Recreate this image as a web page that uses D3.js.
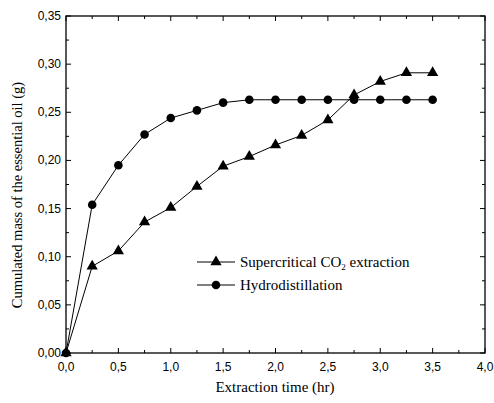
<!DOCTYPE html>
<html><head><meta charset="utf-8">
<script src="https://cdn.jsdelivr.net/npm/d3@7"></script>
<style>body{margin:0;background:#fff}</style>
</head><body>
<svg id="c" width="494" height="403"></svg>
<script>
const times = [0,0.25,0.5,0.75,1.0,1.25,1.5,1.75,2.0,2.25,2.5,2.75,3.0,3.25,3.5];
const supercritical = [0,0.090,0.106,0.136,0.151,0.173,0.194,0.204,0.216,0.226,0.242,0.268,0.282,0.291,0.291];
const hydro = [0,0.154,0.195,0.227,0.244,0.252,0.260,0.263,0.263,0.263,0.263,0.263,0.263,0.263,0.263];
const xTicks = [0,0.5,1.0,1.5,2.0,2.5,3.0,3.5,4.0];
const yTicks = [0,0.05,0.10,0.15,0.20,0.25,0.30,0.35];
const legendLabels = ["Supercritical CO", "Hydrodistillation"];

const svg = d3.select("#c");
const L=66, T=16, R=485, B=353;
const x = d3.scaleLinear().domain([0,4]).range([L,R]);
const y = d3.scaleLinear().domain([0,0.35]).range([B,T]);
const fmtX = d => d.toFixed(1).replace(".",",");
const fmtY = d => d.toFixed(2).replace(".",",");
const minorX = d3.range(0,4.001,0.25);
const minorY = d3.range(0,0.3501,0.025);

// ticks
const tg = svg.append("g").attr("stroke","#000").attr("stroke-width",1);
minorX.forEach((v,i)=>{
  const len = i%2===0?5:3;
  tg.append("line").attr("x1",x(v)).attr("x2",x(v)).attr("y1",B).attr("y2",B-len);
  tg.append("line").attr("x1",x(v)).attr("x2",x(v)).attr("y1",T).attr("y2",T+len);
});
minorY.forEach((v,i)=>{
  const len = i%2===0?5:3;
  tg.append("line").attr("y1",y(v)).attr("y2",y(v)).attr("x1",L).attr("x2",L+len);
  tg.append("line").attr("y1",y(v)).attr("y2",y(v)).attr("x1",R).attr("x2",R-len);
});
svg.append("rect").attr("x",L).attr("y",T).attr("width",R-L).attr("height",B-T)
  .attr("fill","none").attr("stroke","#000").attr("stroke-width",1.3);

// tick labels
svg.append("g").selectAll("text").data(xTicks).join("text")
  .attr("x",d=>x(d)).attr("y",B+18).attr("text-anchor","middle")
  .attr("font-family","Liberation Sans, Arial").attr("font-size",12).text(fmtX);
svg.append("g").selectAll("text").data(yTicks).join("text")
  .attr("x",L-5).attr("y",d=>y(d)+4).attr("text-anchor","end")
  .attr("font-family","Liberation Sans, Arial").attr("font-size",12).text(fmtY);

// axis titles
svg.append("text").attr("x",275).attr("y",392).attr("text-anchor","middle")
  .attr("font-family","Liberation Serif, Times New Roman").attr("font-size",15).text("Extraction time (hr)");
svg.append("text").attr("transform",`translate(22,195) rotate(-90)`).attr("text-anchor","middle")
  .attr("font-family","Liberation Serif, Times New Roman").attr("font-size",14.5).text("Cumulated mass of the essential oil (g)");

// lines
const line = d3.line().x((d,i)=>x(times[i])).y(d=>y(d));
[supercritical, hydro].forEach(s=>{
  svg.append("path").attr("d",line(s)).attr("fill","none").attr("stroke","#000").attr("stroke-width",1);
});
const tri = d3.symbol().type(d3.symbolTriangle).size(55);
svg.append("g").selectAll("path").data(supercritical).join("path")
  .attr("d",tri).attr("transform",(d,i)=>`translate(${x(times[i])},${y(d)})`).attr("fill","#000");
svg.append("g").selectAll("circle").data(hydro).join("circle")
  .attr("cx",(d,i)=>x(times[i])).attr("cy",d=>y(d)).attr("r",4.3).attr("fill","#000");

// legend
const lg = svg.append("g");
const ly = [262, 285];
ly.forEach((yy,i)=>{
  lg.append("line").attr("x1",197).attr("x2",235).attr("y1",yy).attr("y2",yy).attr("stroke","#000");
  if(i===0) lg.append("path").attr("d",tri).attr("transform",`translate(216,${yy})`);
  else lg.append("circle").attr("cx",216).attr("cy",yy).attr("r",4.3);
});
const t1 = lg.append("text").attr("x",240).attr("y",ly[0]+5).attr("font-family","Liberation Serif, Times New Roman").attr("font-size",15);
t1.append("tspan").text(legendLabels[0]);
t1.append("tspan").attr("font-size",9).attr("dy",3).text("2");
t1.append("tspan").attr("dy",-3).text(" extraction");
lg.append("text").attr("x",240).attr("y",ly[1]+5).attr("font-family","Liberation Serif, Times New Roman").attr("font-size",15).text(legendLabels[1]);
</script>
</body></html>
